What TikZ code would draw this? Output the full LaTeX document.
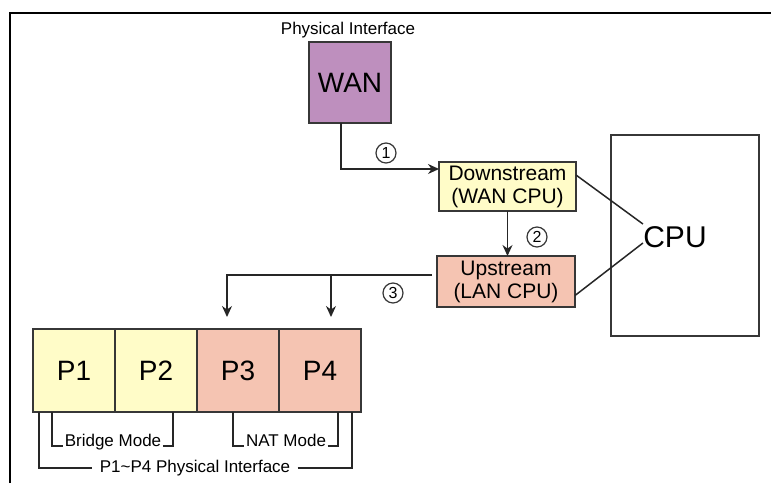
\documentclass[tikz,border=0pt]{standalone}
\usepackage{fontspec}
\setmainfont{Liberation Sans}
\usetikzlibrary{arrows.meta, positioning}

\definecolor{wanpurple}{RGB}{190,143,190}
\definecolor{downyellow}{RGB}{255,252,200}
\definecolor{upsalmon}{RGB}{245,196,178}
\definecolor{edgegray}{RGB}{55,55,55}

\begin{document}
\begin{tikzpicture}[
    x=0.5pt, y=-0.5pt,
    box/.style={rectangle, draw=edgegray, line width=1pt, inner sep=0pt, outer sep=0pt, align=center},
    stage/.style={box, fill=downyellow, minimum width=68.5pt, minimum height=24.5pt, font=\fontsize{10.5}{11.5}\selectfont},
    port/.style={box, minimum width=41pt, minimum height=41.5pt, font=\fontsize{14}{16}\selectfont},
    numcircle/.style={circle, draw=edgegray, line width=0.6pt, minimum size=10pt, inner sep=0pt, font=\fontsize{8}{9}\selectfont},
    tag/.style={inner sep=0.6pt, font=\fontsize{8.5}{10}\selectfont},
    link/.style={draw=black!85, line width=0.75pt},
    arrow/.style={link, -{Stealth[length=5.5pt,width=5pt]}}
]
\useasboundingbox (0,0) rectangle (771,483);
% frame
\draw[line width=1.2pt] (10,483) -- (10,13) -- (771,13);

% WAN and the two CPU stages
\node[tag] (wanlabel) at (348,30) {Physical Interface};
\node[box, fill=wanpurple, minimum width=41pt, minimum height=40.5pt, font=\fontsize{14}{16}\selectfont] (wan) at (350,82.5) {WAN};
\node[stage] (down) at (507.5,186.5) {Downstream\\(WAN CPU)};
\node[stage, fill=upsalmon, minimum width=69pt, minimum height=25.5pt] (up) at (506,281.5) {Upstream\\(LAN CPU)};

% CPU
\node[box, line width=0.75pt, minimum width=74pt, minimum height=100.5pt] (cpuframe) at (685,235.5) {};
\node[inner sep=0pt, font=\fontsize{15}{18}\selectfont] (cpu) at (675,237) {CPU};

% step numbers
\node[numcircle] (n1) at (386,153) {1};
\node[numcircle] (n2) at (537,237) {2};
\node[numcircle] (n3) at (393,293) {3};

% LAN ports
\node[port, fill=downyellow] (p1) at (74,370.5) {P1};
\node[port, fill=downyellow, right=0pt of p1] (p2) {P2};
\node[port, fill=upsalmon, right=0pt of p2] (p3) {P3};
\node[port, fill=upsalmon, right=0pt of p3] (p4) {P4};

\node[tag, anchor=base] (bridge) at (113,446) {Bridge Mode};
\node[tag, anchor=base] (nat) at (286,446) {NAT Mode};
\node[tag, inner sep=3.5pt] (lanlabel) at (195,468) {P1\textasciitilde P4 Physical Interface};

% data path
\draw[arrow] ([xshift=-4.5pt]wan.south) |- ([yshift=8.75pt]down.west);
\draw[arrow] (down.south) -- (down.south |- up.north);
\coordinate (split) at ([xshift=-2.5pt,yshift=3.25pt]up.west);
\draw[arrow, shorten >=6pt] (split) -| ([xshift=-5.5pt]p3.north);
\draw[arrow, shorten >=6pt] ([xshift=5.5pt]p4.north |- split) -- ([xshift=5.5pt]p4.north);

\draw[link] ([yshift=5.75pt]down.east) -- ([yshift=6.5pt]cpu.west);
\draw[link] ([yshift=-7pt]up.east) -- ([yshift=-3pt]cpu.west);

% brackets
\draw[link] ([xshift=9.5pt]p1.south west) |- (bridge.base west);
\draw[link] (bridge.base east) -| ([xshift=-12pt]p2.south east);
\draw[link] ([xshift=18pt]p3.south west) |- (nat.base west);
\draw[link] (nat.base east) -| ([xshift=-11.5pt]p4.south east);
\draw[link] ([xshift=3pt]p1.south west) |- (lanlabel.west);
\draw[link] (lanlabel.east) -| ([xshift=-4.5pt]p4.south east);
\end{tikzpicture}
\end{document}
